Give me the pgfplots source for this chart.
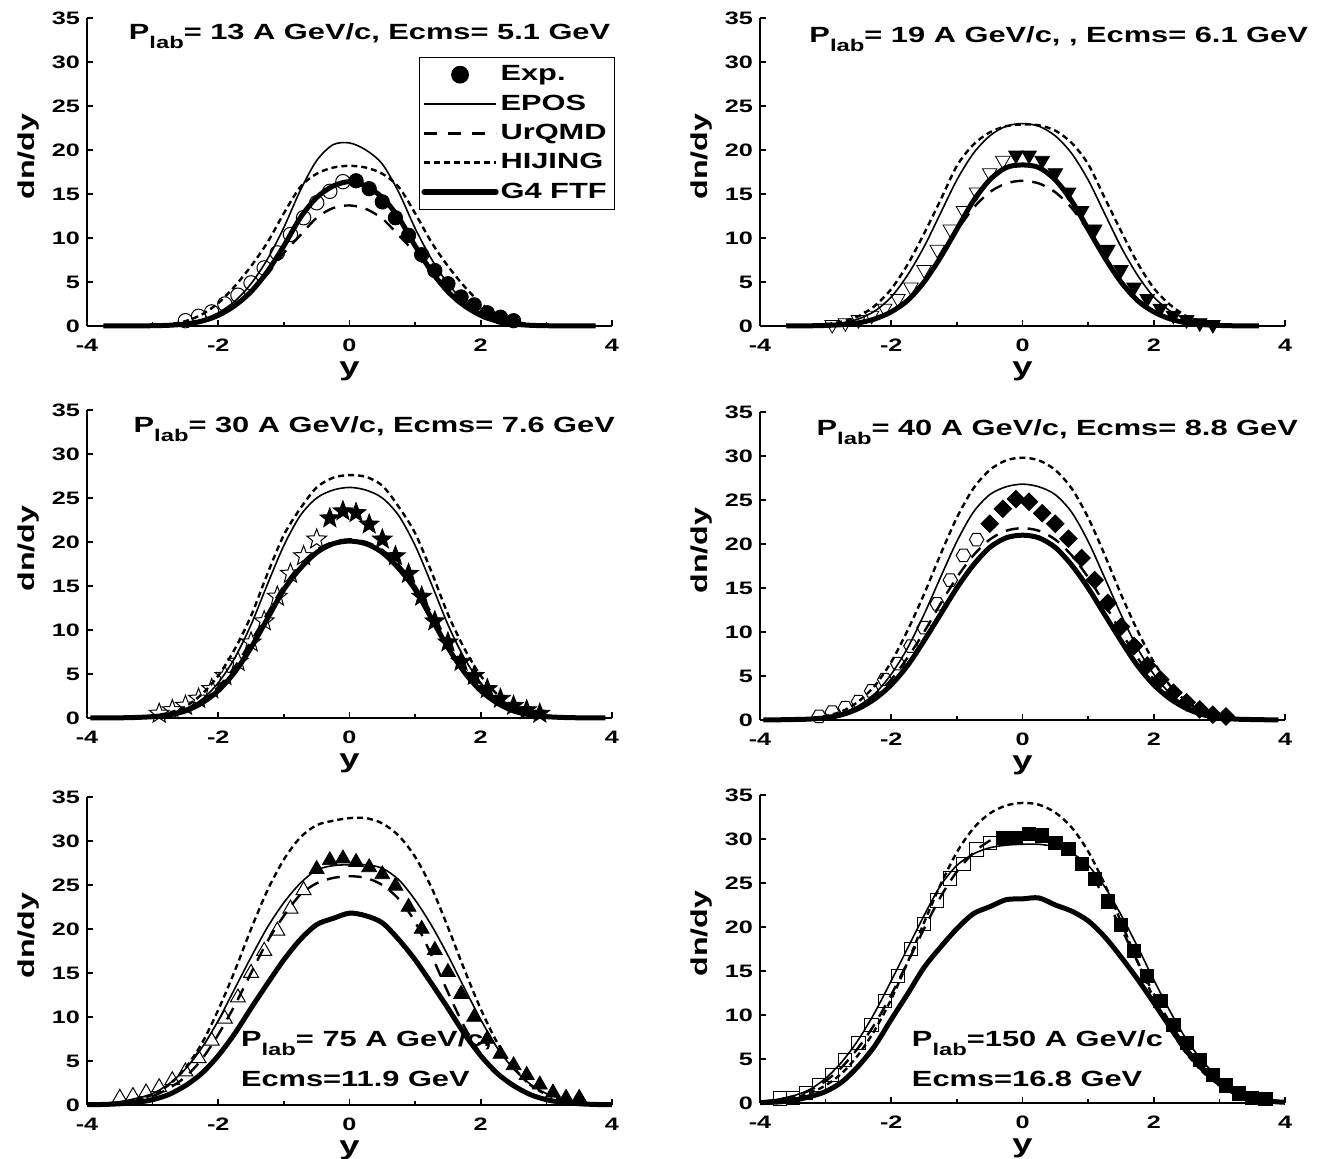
\documentclass[border=0pt]{standalone}
\usepackage{fontspec}
\setmainfont{Liberation Sans}[FakeStretch=1.4]
\usepackage{pgfplots}
\usepackage{pgfplotstable}
\pgfplotsset{compat=1.18}

% five-pointed star and hexagon marks
\newcommand\starpath{%
  \pgfpathmoveto{\pgfpointpolar{90}{\pgfplotmarksize}}%
  \pgfpathlineto{\pgfpointpolar{126}{0.42\pgfplotmarksize}}%
  \pgfpathlineto{\pgfpointpolar{162}{\pgfplotmarksize}}%
  \pgfpathlineto{\pgfpointpolar{198}{0.42\pgfplotmarksize}}%
  \pgfpathlineto{\pgfpointpolar{234}{\pgfplotmarksize}}%
  \pgfpathlineto{\pgfpointpolar{270}{0.42\pgfplotmarksize}}%
  \pgfpathlineto{\pgfpointpolar{306}{\pgfplotmarksize}}%
  \pgfpathlineto{\pgfpointpolar{342}{0.42\pgfplotmarksize}}%
  \pgfpathlineto{\pgfpointpolar{18}{\pgfplotmarksize}}%
  \pgfpathlineto{\pgfpointpolar{54}{0.42\pgfplotmarksize}}%
  \pgfpathclose}
\pgfdeclareplotmark{starf}{\starpath\pgfusepathqfillstroke}
\pgfdeclareplotmark{staro}{\starpath\pgfusepathqstroke}
\pgfdeclareplotmark{hexo}{%
  \pgfpathmoveto{\pgfpointpolar{0}{\pgfplotmarksize}}%
  \pgfpathlineto{\pgfpointpolar{60}{\pgfplotmarksize}}%
  \pgfpathlineto{\pgfpointpolar{120}{\pgfplotmarksize}}%
  \pgfpathlineto{\pgfpointpolar{180}{\pgfplotmarksize}}%
  \pgfpathlineto{\pgfpointpolar{240}{\pgfplotmarksize}}%
  \pgfpathlineto{\pgfpointpolar{300}{\pgfplotmarksize}}%
  \pgfpathclose\pgfusepathqstroke}

\newcommand\tfont{\fontsize{11}{13}\selectfont\bfseries}
\newcommand\lab{\raisebox{-4.5pt}{\fontsize{8.5}{9}\selectfont lab}}
\newcommand\legbox{\path[use as bounding box, draw opacity=0, fill opacity=0] (0pt,-4.5pt) rectangle (36pt,4.5pt);}

% model curves: x epos urqmd hijing g4
\pgfplotstableread{
x epos urqmd hijing g4
-3.75 0.00 0.00 0.00 0.00
-3.50 0.01 0.01 0.01 0.01
-3.25 0.02 0.02 0.03 0.01
-3.00 0.05 0.04 0.08 0.03
-2.75 0.12 0.10 0.20 0.08
-2.50 0.30 0.25 0.55 0.22
-2.25 0.70 0.60 1.30 0.55
-2.00 1.50 1.20 2.60 1.20
-1.75 2.80 2.30 4.50 2.30
-1.50 4.80 3.90 6.80 3.90
-1.25 7.60 5.90 9.50 6.20
-1.00 11.2 8.30 12.8 9.10
-0.75 15.4 10.3 15.8 12.3
-0.50 18.8 12.3 17.3 14.6
-0.25 20.6 13.4 18.0 15.9
0.00 20.8 13.7 18.2 16.4
0.25 20.0 13.3 18.0 15.9
0.50 18.4 12.2 17.3 14.6
0.75 15.2 10.3 15.8 12.3
1.00 11.1 8.30 12.8 9.10
1.25 7.60 5.90 9.50 6.20
1.50 4.80 3.90 6.80 3.90
1.75 2.80 2.30 4.50 2.30
2.00 1.50 1.20 2.60 1.20
2.25 0.70 0.60 1.30 0.55
2.50 0.30 0.25 0.55 0.22
2.75 0.12 0.10 0.20 0.08
3.00 0.05 0.04 0.08 0.03
3.25 0.02 0.02 0.03 0.01
3.50 0.01 0.01 0.01 0.01
3.75 0.00 0.00 0.00 0.00
}\pOne

\pgfplotstableread{
x epos urqmd hijing g4
-3.60 0.01 0.00 0.02 0.00
-3.25 0.06 0.02 0.08 0.02
-3.00 0.15 0.06 0.20 0.06
-2.75 0.35 0.15 0.50 0.15
-2.50 0.80 0.38 1.10 0.35
-2.25 1.70 0.85 2.30 0.80
-2.00 3.30 1.70 4.20 1.60
-1.75 5.80 3.10 7.00 2.90
-1.50 9.00 5.20 10.5 5.00
-1.25 12.8 7.90 14.3 7.80
-1.00 16.6 10.8 18.2 11.0
-0.75 19.6 13.4 20.6 14.2
-0.50 21.6 15.2 22.0 16.6
-0.25 22.7 16.2 22.7 18.0
0.00 23.0 16.5 22.9 18.3
0.25 22.7 16.2 22.8 18.0
0.50 21.6 15.2 22.2 16.6
0.75 19.6 13.4 20.8 14.2
1.00 16.6 10.8 18.4 11.0
1.25 12.8 7.90 14.6 7.80
1.50 9.00 5.20 10.8 5.00
1.75 5.80 3.10 7.20 2.90
2.00 3.30 1.70 4.30 1.60
2.25 1.70 0.85 2.40 0.80
2.50 0.80 0.38 1.10 0.35
2.75 0.35 0.15 0.50 0.15
3.00 0.15 0.06 0.20 0.06
3.25 0.06 0.02 0.08 0.02
3.60 0.01 0.00 0.02 0.00
}\pTwo

\pgfplotstableread{
x epos urqmd hijing g4
-3.95 0.00 0.00 0.00 0.00
-3.75 0.01 0.01 0.01 0.01
-3.50 0.03 0.03 0.04 0.02
-3.25 0.08 0.08 0.10 0.06
-3.00 0.20 0.20 0.25 0.15
-2.75 0.45 0.45 0.60 0.35
-2.50 1.00 1.00 1.30 0.80
-2.25 2.10 2.00 2.70 1.70
-2.00 4.00 3.50 4.80 3.10
-1.75 6.80 5.80 7.80 5.20
-1.50 10.6 8.70 11.6 8.00
-1.25 15.2 11.9 16.4 11.3
-1.00 19.6 15.0 20.8 14.6
-0.75 23.0 17.4 23.8 17.0
-0.50 25.0 19.1 26.2 18.8
-0.25 25.9 20.0 27.3 19.8
0.00 26.2 20.3 27.6 20.1
0.25 25.9 20.0 27.4 19.8
0.50 25.0 19.1 26.4 18.8
0.75 23.0 17.4 24.0 17.0
1.00 19.6 15.0 21.0 14.6
1.25 15.2 11.9 16.6 11.3
1.50 10.6 8.70 11.8 8.00
1.75 6.80 5.80 7.90 5.20
2.00 4.00 3.50 4.80 3.10
2.25 2.10 2.00 2.70 1.70
2.50 1.00 1.00 1.30 0.80
2.75 0.45 0.45 0.60 0.35
3.00 0.20 0.20 0.25 0.15
3.25 0.08 0.08 0.10 0.06
3.50 0.03 0.03 0.04 0.02
3.75 0.01 0.01 0.01 0.01
3.90 0.00 0.00 0.00 0.00
}\pThree

\pgfplotstableread{
x epos urqmd hijing g4
-3.95 0.01 0.01 0.01 0.01
-3.75 0.03 0.02 0.03 0.02
-3.50 0.07 0.06 0.08 0.05
-3.25 0.15 0.15 0.20 0.10
-3.00 0.35 0.35 0.45 0.25
-2.75 0.80 0.75 1.00 0.60
-2.50 1.60 1.50 2.10 1.30
-2.25 3.00 2.80 3.90 2.40
-2.00 5.20 4.60 6.60 4.00
-1.75 8.20 7.10 10.2 6.20
-1.50 12.0 10.0 14.3 9.00
-1.25 16.2 13.2 18.8 12.0
-1.00 20.3 16.2 23.0 15.0
-0.75 23.6 18.7 26.3 17.6
-0.50 25.6 20.5 28.4 19.6
-0.25 26.5 21.5 29.5 20.7
0.00 26.8 21.8 29.8 21.0
0.25 26.5 21.5 29.5 20.7
0.50 25.6 20.5 28.4 19.6
0.75 23.6 18.7 26.3 17.6
1.00 20.3 16.2 23.0 15.0
1.25 16.2 13.2 18.8 12.0
1.50 12.0 10.0 14.3 9.00
1.75 8.20 7.10 10.2 6.20
2.00 5.20 4.60 6.60 4.00
2.25 3.00 2.80 3.90 2.40
2.50 1.60 1.50 2.10 1.30
2.75 0.80 0.75 1.00 0.60
3.00 0.35 0.35 0.45 0.25
3.25 0.15 0.15 0.20 0.10
3.50 0.07 0.06 0.08 0.05
3.75 0.03 0.02 0.03 0.02
3.90 0.01 0.01 0.01 0.01
}\pFour

\pgfplotstableread{
x epos urqmd hijing g4
-4.00 0.08 0.05 0.04 0.03
-3.75 0.18 0.10 0.10 0.06
-3.50 0.38 0.25 0.25 0.14
-3.25 0.75 0.50 0.55 0.30
-3.00 1.30 1.00 1.20 0.60
-2.75 2.40 1.90 2.30 1.20
-2.50 4.10 3.20 4.20 2.20
-2.25 6.50 5.20 7.00 3.60
-2.00 9.60 8.00 10.8 5.60
-1.75 13.2 11.3 15.2 8.10
-1.50 16.8 15.0 20.0 11.0
-1.25 20.2 18.6 24.4 13.8
-1.00 23.0 21.5 27.9 16.5
-0.75 25.2 23.9 30.4 18.8
-0.50 26.7 25.2 31.8 20.5
-0.25 27.2 25.8 32.3 21.2
0.00 27.3 26.0 32.6 21.8
0.25 27.3 25.8 32.6 21.5
0.50 26.9 25.0 32.0 20.7
0.75 25.6 23.4 30.6 18.8
1.00 23.3 20.8 28.2 16.5
1.25 20.4 17.0 24.7 13.8
1.50 17.0 12.8 20.2 11.0
1.75 13.3 8.90 15.4 8.10
2.00 9.70 5.80 10.9 5.60
2.25 6.50 3.60 7.10 3.60
2.50 4.10 2.10 4.30 2.20
2.75 2.40 1.20 2.30 1.20
3.00 1.30 0.65 1.20 0.60
3.25 0.70 0.32 0.55 0.30
3.50 0.35 0.15 0.25 0.14
3.75 0.16 0.07 0.10 0.06
4.00 0.07 0.03 0.04 0.03
}\pFive

\pgfplotstableread{
x epos urqmd hijing g4
-4.00 0.18 0.15 0.12 0.05
-3.75 0.40 0.35 0.30 0.10
-3.50 0.80 0.75 0.60 0.30
-3.25 1.50 1.40 1.10 0.70
-3.00 2.80 2.50 2.00 1.30
-2.75 4.70 4.10 3.40 2.40
-2.50 7.20 6.30 5.50 4.20
-2.25 10.3 9.00 8.30 6.50
-2.00 13.9 12.3 11.8 9.50
-1.75 17.6 16.0 16.0 12.4
-1.50 21.3 19.8 20.5 15.4
-1.25 24.7 23.4 24.8 17.7
-1.00 27.0 26.3 28.5 19.8
-0.75 28.3 28.4 31.2 21.5
-0.50 29.0 29.8 32.9 22.3
-0.25 29.3 30.3 33.8 23.1
0.00 29.4 30.5 34.1 23.2
0.25 29.4 30.4 33.9 23.3
0.50 29.1 29.9 33.0 22.5
0.75 28.4 28.6 31.3 21.8
1.00 27.0 26.4 28.6 20.7
1.25 24.6 23.4 24.9 18.9
1.50 21.4 19.9 20.6 16.6
1.75 17.8 16.1 16.1 14.1
2.00 14.0 12.4 11.9 11.4
2.25 10.4 9.10 8.40 8.60
2.50 7.20 6.30 5.60 5.90
2.75 4.70 4.10 3.50 3.80
3.00 2.80 2.50 2.00 2.20
3.25 1.50 1.40 1.10 1.10
3.50 0.80 0.75 0.60 0.50
3.75 0.40 0.35 0.30 0.20
4.00 0.18 0.15 0.12 0.08
}\pSix

% measured points: f = filled (forward), o = open (reflected)
\pgfplotstableread{
x y
0.1 16.5
0.3 15.6
0.5 14.1
0.7 12.3
0.9 10.3
1.1 8.1
1.3 6.3
1.5 4.8
1.7 3.3
1.9 2.4
2.1 1.5
2.3 1.0
2.5 0.6
}\eAf
\pgfplotstableread{
x y
-0.1 16.4
-0.3 15.3
-0.5 14.0
-0.7 12.3
-0.9 10.4
-1.1 8.3
-1.3 6.6
-1.5 4.9
-1.7 3.5
-1.9 2.5
-2.1 1.6
-2.3 1.1
-2.5 0.6
}\eAo

\pgfplotstableread{
x y
-0.1 19.4
0.1 19.4
0.3 18.8
0.5 17.4
0.7 15.2
0.9 13.1
1.1 11.0
1.3 8.7
1.5 6.4
1.7 4.4
1.9 3.1
2.1 2.0
2.3 1.2
2.5 0.7
2.7 0.35
2.9 0.15
}\eBf
\pgfplotstableread{
x y
-0.3 18.8
-0.5 17.4
-0.7 15.2
-0.9 13.1
-1.1 11.0
-1.3 8.7
-1.5 6.4
-1.7 4.4
-1.9 3.1
-2.1 2.0
-2.3 1.2
-2.5 0.7
-2.7 0.35
-2.9 0.15
}\eBo

\pgfplotstableread{
x y
-0.3 22.7
-0.1 23.5
0.1 23.3
0.3 22.0
0.5 20.3
0.7 18.4
0.9 16.4
1.1 13.8
1.3 11.0
1.5 8.6
1.7 6.4
1.9 4.8
2.1 3.3
2.3 2.2
2.5 1.4
2.7 0.9
2.9 0.5
}\eCf
\pgfplotstableread{
x y
-0.5 20.3
-0.7 18.4
-0.9 16.4
-1.1 13.8
-1.3 11.0
-1.5 8.6
-1.7 6.4
-1.9 4.8
-2.1 3.3
-2.3 2.2
-2.5 1.4
-2.7 0.9
-2.9 0.5
}\eCo

\pgfplotstableread{
x y
-0.5 22.3
-0.3 24.0
-0.1 25.1
0.1 24.8
0.3 23.5
0.5 22.3
0.7 20.6
0.9 18.4
1.1 15.9
1.3 13.3
1.5 10.6
1.7 8.4
1.9 6.2
2.1 4.6
2.3 3.1
2.5 2.0
2.7 1.2
2.9 0.6
3.1 0.4
}\eDf
\pgfplotstableread{
x y
-0.7 20.5
-0.9 18.7
-1.1 15.9
-1.3 13.2
-1.5 10.5
-1.7 8.4
-1.9 6.4
-2.1 4.6
-2.3 3.3
-2.5 2.1
-2.7 1.4
-2.9 0.9
-3.1 0.4
}\eDo

\pgfplotstableread{
x y
-0.5 26.8
-0.3 27.8
-0.1 28.0
0.1 27.6
0.3 27.0
0.5 26.2
0.7 24.9
0.9 22.5
1.1 20.0
1.3 17.6
1.5 15.1
1.7 12.6
1.9 10.0
2.1 7.5
2.3 5.8
2.5 4.5
2.7 3.4
2.9 2.3
3.1 1.4
3.3 0.8
3.5 0.8
}\eEf
\pgfplotstableread{
x y
-0.7 24.4
-0.9 22.3
-1.1 19.8
-1.3 17.5
-1.5 15.0
-1.7 12.2
-1.9 9.8
-2.1 7.3
-2.3 5.3
-2.5 3.8
-2.7 2.8
-2.9 2.0
-3.1 1.4
-3.3 1.0
-3.5 0.8
}\eEo

\pgfplotstableread{
x y
-0.3 30.1
-0.1 30.1
0.1 30.6
0.3 30.4
0.5 29.6
0.7 28.9
0.9 27.2
1.1 25.5
1.3 22.9
1.5 20.2
1.7 17.3
1.9 14.4
2.1 11.6
2.3 8.9
2.5 6.8
2.7 4.9
2.9 3.2
3.1 2.0
3.3 1.1
3.5 0.6
3.7 0.5
}\eFf
\pgfplotstableread{
x y
-0.5 29.5
-0.7 28.8
-0.9 27.2
-1.1 25.5
-1.3 23.0
-1.5 20.3
-1.7 17.5
-1.9 14.4
-2.1 11.6
-2.3 8.9
-2.5 6.8
-2.7 4.9
-2.9 3.2
-3.1 2.0
-3.3 1.1
-3.5 0.6
-3.7 0.5
}\eFo

\pgfplotsset{
  panel/.style={
    width=262.5pt, height=154pt, scale only axis,
    anchor=south west,
    xmin=-4, xmax=4, ymin=0, ymax=35,
    axis x line=bottom, axis y line=left,
    axis line style={line width=1pt, -},
    xtick={-4,-2,0,2,4}, minor xtick={-3,-1,1,3},
    ytick={0,5,...,35},
    tick align=inside,
    major tick length=3pt, minor tick length=2pt,
    tick style={line width=0.8pt, black},
    tick label style={font=\fontsize{9}{10}\selectfont\bfseries},
    xticklabel style={yshift=-3pt},
    /pgf/number format/assume math mode=true,
    xlabel={y}, ylabel={dn/dy},
    xlabel style={at={(axis description cs:0.5,-0.148)}, anchor=center,
      font=\fontsize{13}{15}\selectfont\bfseries},
    ylabel style={at={(axis description cs:-0.112,0.55)}, anchor=center,
      font=\fontsize{11.5}{13}\selectfont\bfseries},
    clip=false,
  },
  epos/.style={black, line width=0.8pt, no marks, smooth, tension=0.5, forget plot},
  urqmd/.style={black, line width=1.2pt, dash pattern=on 6.5pt off 4.5pt, no marks, smooth, tension=0.5, forget plot},
  hijing/.style={black, line width=1.2pt, dash pattern=on 3pt off 2pt, no marks, smooth, tension=0.5, forget plot},
  g4/.style={black, line width=2.5pt, no marks, smooth, tension=0.5, forget plot},
  expf/.style={black, only marks, mark options={fill=black, draw=black, line width=0.4pt, solid}, forget plot},
  expo/.style={black, only marks, mark options={fill=none, draw=black, line width=0.5pt, solid}, forget plot},
}

\begin{document}
\begin{tikzpicture}
\useasboundingbox (0,0) rectangle (661pt,579.5pt);

% 13 A GeV/c
\begin{axis}[panel, at={(43.5pt,416.5pt)},
  legend style={at={(1.006,0.873)}, anchor=north east, draw=black, line width=0.5pt,
    font=\fontsize{11}{12}\selectfont\bfseries, inner xsep=2pt, inner ysep=2pt,
    row sep=1.5pt, fill=white},
  legend cell align=left]
\addplot[epos] table[x=x,y=epos]{\pOne};
\addplot[urqmd] table[x=x,y=urqmd]{\pOne};
\addplot[hijing] table[x=x,y=hijing]{\pOne};
\addplot[g4] table[x=x,y=g4]{\pOne};
\addplot[expo, mark=o, mark size=3.6pt] table{\eAo};
\addplot[expf, mark=*, mark size=3.6pt] table{\eAf};
\node[anchor=base east, font=\tfont] at (rel axis cs:1.01,0.929) {P\lab= 13 A GeV/c, Ecms= 5.1 GeV};
\addlegendimage{legend image code/.code={\legbox\fill[black] (18pt,0pt) circle (4.2pt);}}
\addlegendentry{Exp.}
\addlegendimage{legend image code/.code={\legbox\draw[black, line width=0.9pt] (0pt,0pt) -- (36pt,0pt);}}
\addlegendentry{EPOS}
\addlegendimage{legend image code/.code={\legbox\draw[black, line width=1.3pt, dash pattern=on 6.5pt off 5.5pt] (0pt,0pt) -- (36pt,0pt);}}
\addlegendentry{UrQMD}
\addlegendimage{legend image code/.code={\legbox\draw[black, line width=1.3pt, dash pattern=on 3pt off 2pt] (0pt,0pt) -- (36pt,0pt);}}
\addlegendentry{HIJING}
\addlegendimage{legend image code/.code={\legbox\draw[black, line width=2.6pt, line cap=round] (0pt,0pt) -- (36pt,0pt);}}
\addlegendentry{G4 FTF}
\end{axis}

% 19 A GeV/c
\begin{axis}[panel, at={(380pt,416.5pt)}]
\addplot[epos] table[x=x,y=epos]{\pTwo};
\addplot[urqmd] table[x=x,y=urqmd]{\pTwo};
\addplot[hijing] table[x=x,y=hijing]{\pTwo};
\addplot[g4] table[x=x,y=g4]{\pTwo};
\addplot[expo, mark=triangle, mark size=4.2pt, mark options={rotate=180}] table{\eBo};
\addplot[expf, mark=triangle*, mark size=4.2pt, mark options={rotate=180}] table{\eBf};
\node[anchor=base east, font=\tfont] at (rel axis cs:1.057,0.922) {P\lab= 19 A GeV/c, , Ecms= 6.1 GeV};
\end{axis}

% 30 A GeV/c
\begin{axis}[panel, at={(43.5pt,220.5pt)}]
\addplot[epos] table[x=x,y=epos]{\pThree};
\addplot[urqmd] table[x=x,y=urqmd]{\pThree};
\addplot[hijing] table[x=x,y=hijing]{\pThree};
\addplot[g4] table[x=x,y=g4]{\pThree};
\addplot[expo, mark=staro, mark size=5.2pt] table{\eCo};
\addplot[expf, mark=starf, mark size=5.2pt] table{\eCf};
\node[anchor=base east, font=\tfont] at (rel axis cs:1.019,0.928) {P\lab= 30 A GeV/c, Ecms= 7.6 GeV};
\end{axis}

% 40 A GeV/c
\begin{axis}[panel, at={(380pt,219.5pt)}]
\addplot[epos] table[x=x,y=epos]{\pFour};
\addplot[urqmd] table[x=x,y=urqmd]{\pFour};
\addplot[hijing] table[x=x,y=hijing]{\pFour};
\addplot[g4] table[x=x,y=g4]{\pFour};
\addplot[expo, mark=hexo, mark size=3.6pt] table{\eDo};
\addplot[expf, mark=square*, mark size=3.1pt, mark options={rotate=45}] table{\eDf};
\node[anchor=base east, font=\tfont] at (rel axis cs:1.038,0.925) {P\lab= 40 A GeV/c, Ecms= 8.8 GeV};
\end{axis}

% 75 A GeV/c
\begin{axis}[panel, at={(43.5pt,27pt)}]
\addplot[epos] table[x=x,y=epos]{\pFive};
\addplot[urqmd] table[x=x,y=urqmd]{\pFive};
\addplot[hijing] table[x=x,y=hijing]{\pFive};
\addplot[g4] table[x=x,y=g4]{\pFive};
\addplot[expo, mark=triangle, mark size=4.3pt] table{\eEo};
\addplot[expf, mark=triangle*, mark size=4.3pt] table{\eEf};
\node[anchor=base west, font=\tfont] at (rel axis cs:0.28,0.189) {P\lab= 75 A GeV/c,};
\node[anchor=base west, font=\tfont] at (rel axis cs:0.28,0.059) {Ecms=11.9 GeV};
\end{axis}

% 150 A GeV/c
\begin{axis}[panel, at={(380pt,28pt)}]
\addplot[epos] table[x=x,y=epos]{\pSix};
\addplot[urqmd] table[x=x,y=urqmd]{\pSix};
\addplot[hijing] table[x=x,y=hijing]{\pSix};
\addplot[g4] table[x=x,y=g4]{\pSix};
\addplot[expo, mark=square, mark size=3.3pt] table{\eFo};
\addplot[expf, mark=square*, mark size=3.3pt] table{\eFf};
\node[anchor=base west, font=\tfont] at (rel axis cs:0.276,0.183) {P\lab=150 A GeV/c};
\node[anchor=base west, font=\tfont] at (rel axis cs:0.276,0.052) {Ecms=16.8 GeV};
\end{axis}
\end{tikzpicture}
\end{document}
